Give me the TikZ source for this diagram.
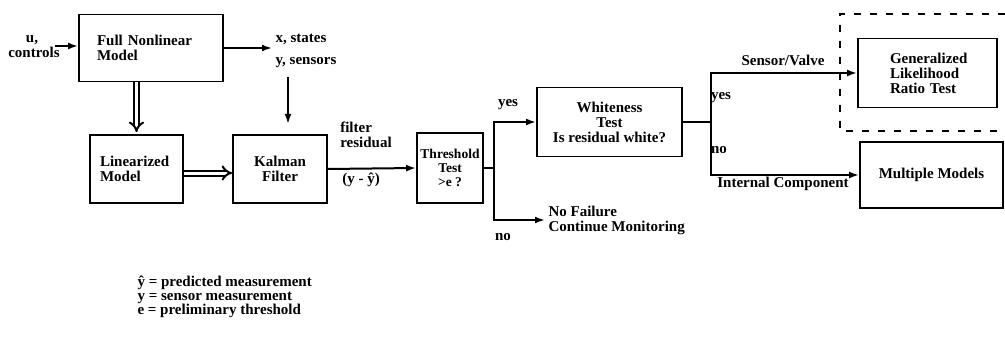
\documentclass[tikz,border=0pt]{standalone}
\usepackage{fontspec}
\setmainfont{Liberation Serif}
\usetikzlibrary{arrows,arrows.meta}

\begin{document}
\begin{tikzpicture}[x=1pt,y=-1pt,
        font=\fontsize{15}{15}\selectfont\bfseries,
        blk/.style={draw,line width=1.8pt,align=center},
        arr/.style={line width=2pt,-{Latex[length=10pt,width=7pt]}},
        dbl/.style={double,double distance=3pt,line width=2pt,-implies}]
            \useasboundingbox (0,0) rectangle (1005,353);

            \node[blk,minimum width=144,minimum height=67,text width=108,inner xsep=18,align=left] (full) at (151,48) {Full Nonlinear\\Model};
            \node[blk,minimum width=93,minimum height=68,text width=73,inner xsep=10,align=left] (lin) at (136.5,169) {Linearized\\Model};
            \node[blk,minimum width=94,minimum height=68] (kal) at (280,169) {Kalman\\Filter};
            \node[blk,minimum width=66,minimum height=70,inner sep=0pt,font=\fontsize{13.5}{14}\selectfont\bfseries] (thr) at (450,168) {Threshold\\Test\\\textgreater e ?};
            \node[blk,minimum width=145,minimum height=69] (whi) at (609.5,122) {Whiteness\\Test\\Is residual white?};
            \node[blk,minimum width=139,minimum height=69,text width=75,inner xsep=32,align=left] (glr) at (927.5,73) {Generalized\\Likelihood\\Ratio Test};
            \node[blk,minimum width=143,minimum height=66] (mm) at (931.5,175) {Multiple Models};

            \node[align=center] (uin) at (34,47) {\hspace*{-4pt}u,\\controls};
            \node[anchor=west,align=left] (xs) at (272,51) {x, states\\[7pt]y, sensors};
            \node[anchor=west,align=left] (nf) at (545,220) {No Failure\\Continue Monitoring};
            \node[align=left] (res) at (366,135) {filter\\residual};
            \node (diff) at (361,180) {(y - \^y)};
            \node (yes1) at (508,105) {yes};
            \node (no1) at (503,237) {no};
            \node (sv) at (783,60) {Sensor/Valve};
            \node (yes2) at (721,98) {yes};
            \node (no2) at (719,150) {no};
            \node (ic) at (783,184) {Internal Component};
            \node[anchor=west,align=left,font=\fontsize{15}{14}\selectfont\bfseries] (key) at (134,297) {\^y = predicted measurement\\y = sensor measurement\\e = preliminary threshold};

            \coordinate (ustart) at (55,46);
            \coordinate (kin) at (288,124);

            \draw[arr] (ustart) -- (ustart -| full.west);
            \draw[arr] (full.east) -- (full.east -| xs.west);
            \draw[arr,shorten <=6pt] (xs.south -| kin) -- (kin);
            \draw[dbl,shorten >=2pt] (full.south -| lin.north) -- (lin.north);
            \draw[dbl] ([yshift=-4pt]lin.east) -- ([yshift=-4pt]kal.west);
            \draw[arr] (kal.east) -- (thr.west);

            \draw[arr] (thr.east) -- ++(10,0) coordinate (tfork) |- (whi.west);
            \draw[arr] (tfork) |- (nf.west);
            \draw[arr] (whi.east) -- ++(28,0) coordinate (wfork) |- (glr.west);
            \draw[arr] (wfork) |- (mm.west);

            \draw[line width=2.2pt,dash pattern=on 7pt off 9pt] (1005,14) -- (840,14) -- (840,131) -- (1005,131);
\end{tikzpicture}
\end{document}
